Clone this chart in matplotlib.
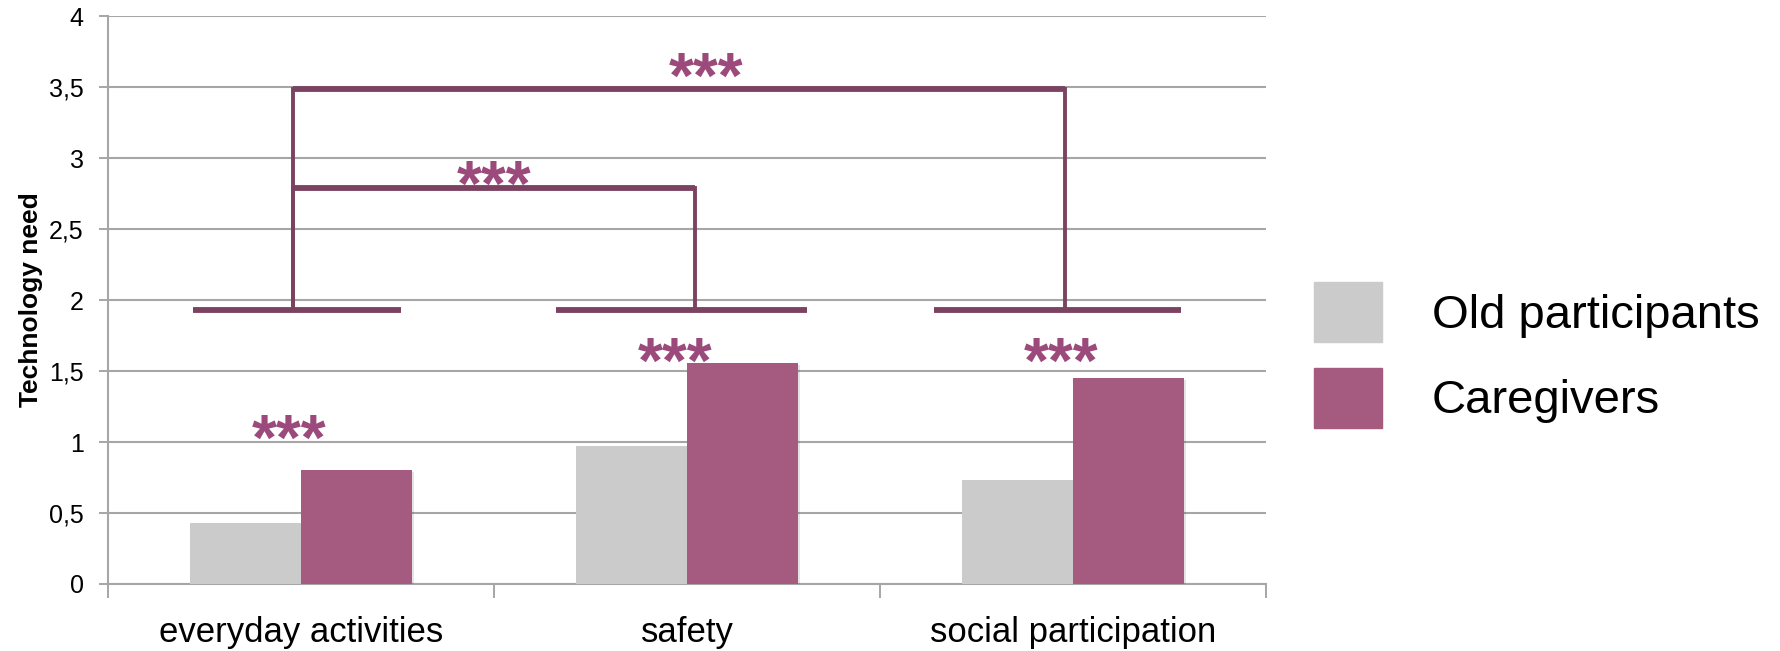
import matplotlib.pyplot as plt
import matplotlib.patheffects as pe
from matplotlib.patches import Patch

plt.rcParams['font.family'] = ['Liberation Sans', 'DejaVu Sans']

categories = ['everyday activities', 'safety', 'social participation']
old_participants = [0.43, 0.97, 0.73]
caregivers = [0.80, 1.56, 1.45]

# significance marks above each caregiver bar
pair_stars_y = [1.12, 1.66, 1.66]

# bracket comparing categories: base bars under each group, then connectors
base_y = 1.93
base_spans = [(-0.28, 0.26), (0.66, 1.31), (1.64, 2.28)]
stem_x = [-0.02, 1.02, 1.98]
connectors = [(0, 1, 2.79), (0, 2, 3.49)]
connector_stars = [(0.50, 2.91), (1.05, 3.67)]

grey = '#cbcbcb'
plum = '#a55a7f'
line_col = '#7b4262'
star_col = '#9b4a7b'

fig = plt.figure(figsize=(17.81, 6.51), dpi=100)
ax = fig.add_axes([0.0606, 0.103, 0.6502, 0.872])

x = list(range(len(categories)))
w = 0.288
shadow = [pe.SimplePatchShadow(offset=(1.5, -1.5), alpha=0.12), pe.Normal()]
b1 = ax.bar([i - w / 2 for i in x], old_participants, width=w, color=grey, zorder=3, label='Old participants')
b2 = ax.bar([i + w / 2 for i in x], caregivers, width=w, color=plum, zorder=3, label='Caregivers')
for bar in list(b1) + list(b2):
    bar.set_path_effects(shadow)


def stars(sx, sy):
    # asterisks sit high in the em box, so drop the baseline below the centre
    ax.annotate('***', (sx, sy), xytext=(0, -25), textcoords='offset points',
                ha='center', va='baseline', fontsize=46, fontweight='bold',
                color=star_col, zorder=4)


for i, y in zip(x, pair_stars_y):
    stars(i - 0.03, y)

for x0, x1 in base_spans:
    ax.plot([x0, x1], [base_y, base_y], color=line_col, lw=4.2, solid_capstyle='butt', zorder=4)
for a, b, y in connectors:
    ax.plot([stem_x[a], stem_x[a]], [base_y, y], color=line_col, lw=2.8, zorder=4)
    ax.plot([stem_x[b], stem_x[b]], [base_y, y], color=line_col, lw=2.8, zorder=4)
    ax.plot([stem_x[a], stem_x[b]], [y, y], color=line_col, lw=4.2, solid_capstyle='butt', zorder=4)
for sx, sy in connector_stars:
    stars(sx, sy)

ax.set_xlim(-0.5, 2.5)
ax.set_ylim(0, 4)
ax.set_yticks([0, 0.5, 1, 1.5, 2, 2.5, 3, 3.5, 4])
ax.set_yticklabels(['0', '0,5', '1', '1,5', '2', '2,5', '3', '3,5', '4'], fontsize=18)
ax.set_xticks([-0.5, 0.5, 1.5, 2.5])
ax.set_xticklabels([])
ax.set_xticks(x, minor=True)
ax.set_xticklabels(categories, minor=True, fontsize=25)
ax.tick_params(axis='x', which='minor', length=0, pad=23)
ax.tick_params(axis='x', which='major', length=10, width=1.4, color='#a6a6a6')
ax.tick_params(axis='y', length=6.5, width=1.4, color='#a6a6a6', pad=11)

ax.grid(axis='y', color='#a6a6a6', lw=1.5, zorder=0)
ax.set_axisbelow(True)
for s in ['top', 'right']:
    ax.spines[s].set_visible(False)
for s in ['left', 'bottom']:
    ax.spines[s].set_color('#a6a6a6')
    ax.spines[s].set_linewidth(1.5)

ax.set_ylabel('Technology need', fontsize=19, fontweight='bold', labelpad=4)

handles = [Patch(color=grey), Patch(color=plum)]
fig.legend(handles, ['Old participants', 'Caregivers'], loc='center left',
           bbox_to_anchor=(0.738, 0.455), frameon=False, fontsize=34,
           handlelength=1.44, handleheight=1.58, handletextpad=1.05,
           labelspacing=0.54, borderpad=0, borderaxespad=0)

fig.savefig('out.png', dpi=100)
